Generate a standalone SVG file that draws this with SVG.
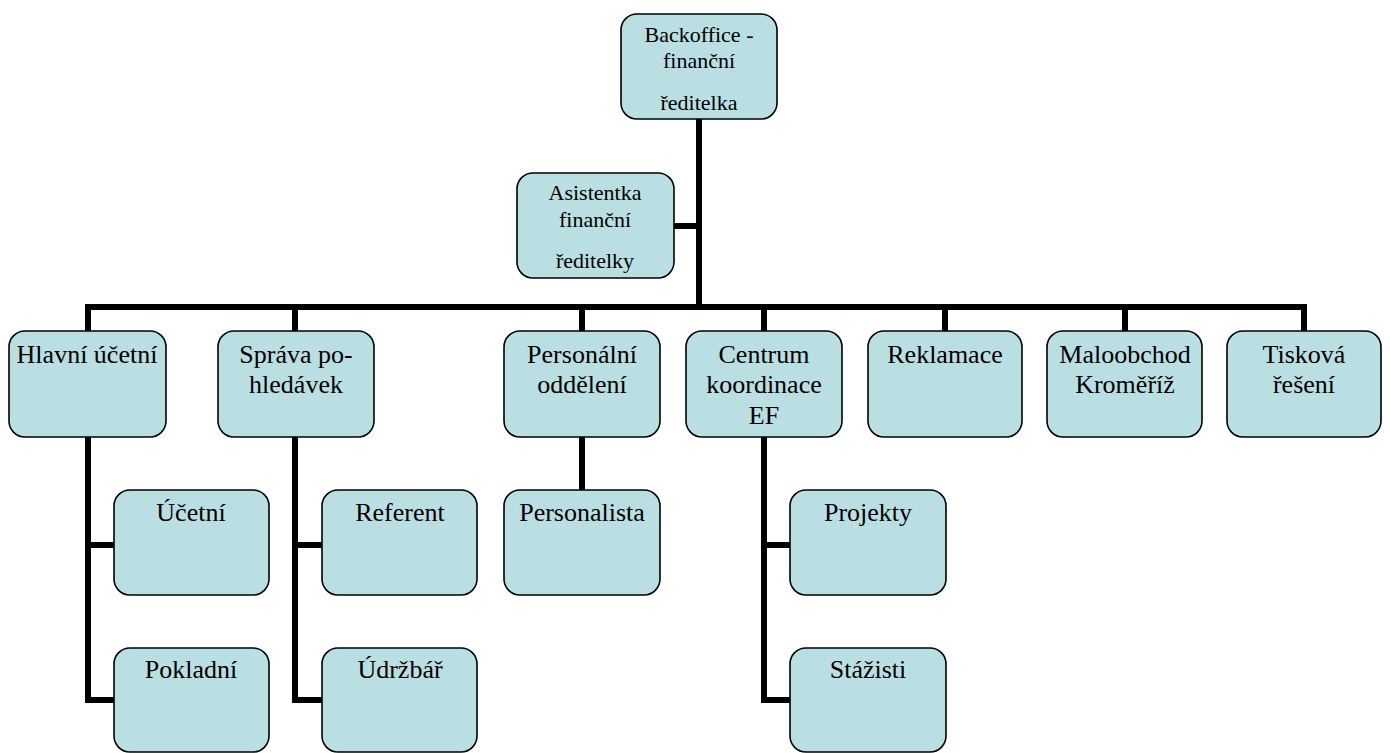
<svg xmlns="http://www.w3.org/2000/svg" width="1390" height="753" viewBox="0 0 1390 753">
<style>
.box{fill:#badfe2;stroke:#000;stroke-width:1.6}
.ln{fill:none;stroke:#000;stroke-width:6;stroke-linecap:butt;stroke-linejoin:miter}
.t{font-family:"Liberation Serif","Nimbus Roman","Nimbus Roman No9 L","FreeSerif","Noto Serif","DejaVu Serif",Georgia,"Times New Roman",Times,serif;fill:#000;text-anchor:middle}
.s{font-size:22px}
.m{font-size:26px}
</style>
<rect width="1390" height="753" fill="#fff"/>
<g id="connectors">
<path class="ln" d="M699 119 V307"/>
<path class="ln" d="M674 226 H699"/>
<path class="ln" d="M88 331 V307 H1304 V331"/>
<path class="ln" d="M295 307 V331"/>
<path class="ln" d="M582 307 V331"/>
<path class="ln" d="M764 307 V331"/>
<path class="ln" d="M945 307 V331"/>
<path class="ln" d="M1125 307 V331"/>
<path class="ln" d="M88 437 V700 H114"/>
<path class="ln" d="M88 545 H114"/>
<path class="ln" d="M295 437 V700 H322"/>
<path class="ln" d="M295 545 H322"/>
<path class="ln" d="M582 437 V490"/>
<path class="ln" d="M764 437 V700 H790"/>
<path class="ln" d="M764 545 H790"/>
</g>
<g id="n-backoffice"><rect class="box" x="621" y="14" width="156" height="105" rx="16"/><text class="t s" x="699" y="42">Backoffice -</text><text class="t s" x="699" y="68">finanční</text><text class="t s" x="699" y="110">ředitelka</text></g>
<g id="n-asistentka"><rect class="box" x="517" y="173" width="157" height="105" rx="16"/><text class="t s" x="595" y="200">Asistentka</text><text class="t s" x="595" y="227">finanční</text><text class="t s" x="595" y="268">ředitelky</text></g>
<g id="n-hlavni"><rect class="box" x="9" y="331" width="157" height="106" rx="16"/><text class="t m" x="87" y="363">Hlavní účetní</text></g>
<g id="n-sprava"><rect class="box" x="218" y="331" width="156" height="106" rx="16"/><text class="t m" x="296" y="363">Správa po-</text><text class="t m" x="296" y="393">hledávek</text></g>
<g id="n-personalni"><rect class="box" x="504" y="331" width="156" height="106" rx="16"/><text class="t m" x="582" y="363">Personální</text><text class="t m" x="582" y="393">oddělení</text></g>
<g id="n-centrum"><rect class="box" x="686" y="331" width="156" height="106" rx="16"/><text class="t m" x="764" y="363">Centrum</text><text class="t m" x="764" y="393">koordinace</text><text class="t m" x="764" y="424">EF</text></g>
<g id="n-reklamace"><rect class="box" x="868" y="331" width="154" height="106" rx="16"/><text class="t m" x="945" y="363">Reklamace</text></g>
<g id="n-maloobchod"><rect class="box" x="1047" y="331" width="155" height="106" rx="16"/><text class="t m" x="1125" y="363">Maloobchod</text><text class="t m" x="1125" y="393">Kroměříž</text></g>
<g id="n-tiskova"><rect class="box" x="1227" y="331" width="154" height="106" rx="16"/><text class="t m" x="1304" y="363">Tisková</text><text class="t m" x="1304" y="393">řešení</text></g>
<g id="n-ucetni"><rect class="box" x="114" y="490" width="155" height="105" rx="16"/><text class="t m" x="191" y="521">Účetní</text></g>
<g id="n-pokladni"><rect class="box" x="114" y="648" width="155" height="104" rx="16"/><text class="t m" x="191" y="678">Pokladní</text></g>
<g id="n-referent"><rect class="box" x="322" y="490" width="155" height="105" rx="16"/><text class="t m" x="400" y="521">Referent</text></g>
<g id="n-udrzbar"><rect class="box" x="322" y="648" width="155" height="104" rx="16"/><text class="t m" x="400" y="678">Údržbář</text></g>
<g id="n-personalista"><rect class="box" x="504" y="490" width="156" height="105" rx="16"/><text class="t m" x="582" y="521">Personalista</text></g>
<g id="n-projekty"><rect class="box" x="790" y="490" width="156" height="105" rx="16"/><text class="t m" x="868" y="521">Projekty</text></g>
<g id="n-stazisti"><rect class="box" x="790" y="648" width="156" height="104" rx="16"/><text class="t m" x="868" y="678">Stážisti</text></g>
</svg>
